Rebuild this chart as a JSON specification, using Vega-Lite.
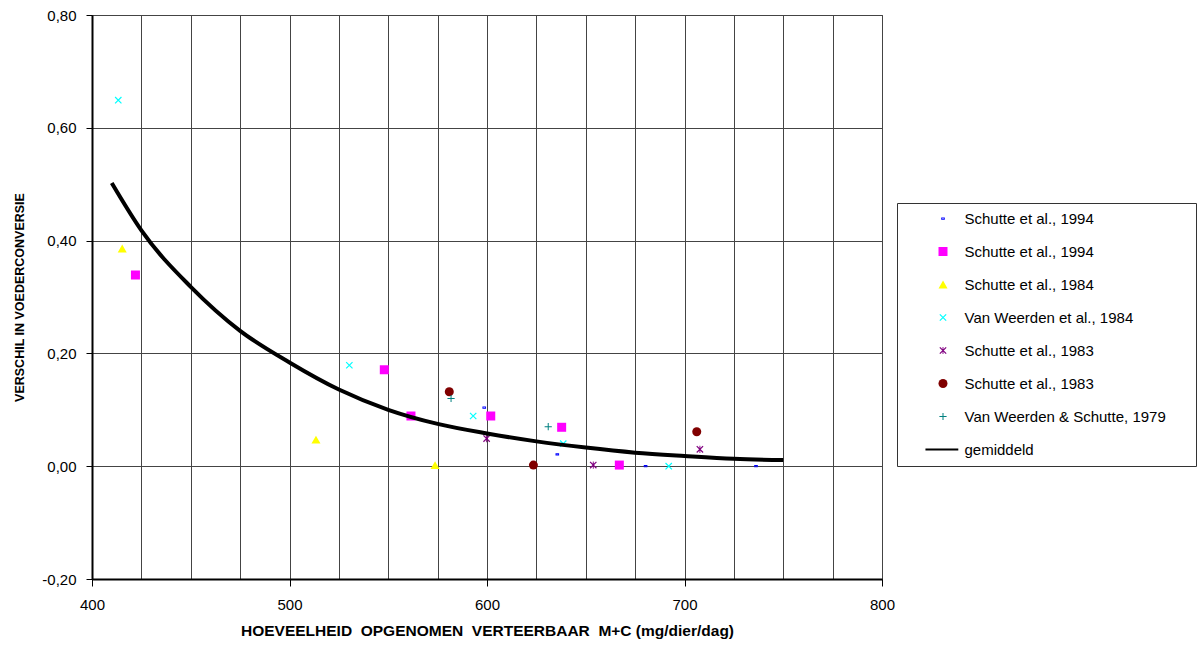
{
  "$schema": "https://vega.github.io/schema/vega-lite/v6.json",
  "width": 790,
  "height": 564,
  "autosize": "none",
  "padding": {"left": 92, "top": 15, "right": 315, "bottom": 67},
  "background": "white",
  "config": {
    "font": "Liberation Sans",
    "view": {"stroke": "#444", "strokeWidth": 1}
  },
  "datasets": {
    "pts": [
      {"series": "Schutte et al., 1994|a", "x": 598.6, "y": 0.104},
      {"series": "Schutte et al., 1994|a", "x": 635.6, "y": 0.021},
      {"series": "Schutte et al., 1994|a", "x": 680.3, "y": 0.0},
      {"series": "Schutte et al., 1994|a", "x": 736.2, "y": 0.0},
      {"series": "Schutte et al., 1994|b", "x": 422.0, "y": 0.339},
      {"series": "Schutte et al., 1994|b", "x": 548.0, "y": 0.171},
      {"series": "Schutte et al., 1994|b", "x": 561.5, "y": 0.089},
      {"series": "Schutte et al., 1994|b", "x": 601.9, "y": 0.089},
      {"series": "Schutte et al., 1994|b", "x": 637.8, "y": 0.069},
      {"series": "Schutte et al., 1994|b", "x": 667.0, "y": 0.002},
      {"series": "Schutte et al., 1984", "x": 415.3, "y": 0.386},
      {"series": "Schutte et al., 1984", "x": 513.4, "y": 0.047},
      {"series": "Schutte et al., 1984", "x": 573.7, "y": 0.002},
      {"series": "Van Weerden et al., 1984", "x": 413.3, "y": 0.649},
      {"series": "Van Weerden et al., 1984", "x": 530.3, "y": 0.179},
      {"series": "Van Weerden et al., 1984", "x": 593.0, "y": 0.089},
      {"series": "Van Weerden et al., 1984", "x": 638.6, "y": 0.040},
      {"series": "Van Weerden et al., 1984", "x": 692.0, "y": 0.0},
      {"series": "Schutte et al., 1983|a", "x": 599.8, "y": 0.049},
      {"series": "Schutte et al., 1983|a", "x": 653.8, "y": 0.002},
      {"series": "Schutte et al., 1983|a", "x": 707.8, "y": 0.030},
      {"series": "Schutte et al., 1983|b", "x": 580.9, "y": 0.132},
      {"series": "Schutte et al., 1983|b", "x": 623.5, "y": 0.002},
      {"series": "Schutte et al., 1983|b", "x": 706.2, "y": 0.061},
      {"series": "Van Weerden & Schutte, 1979", "x": 581.8, "y": 0.120},
      {"series": "Van Weerden & Schutte, 1979", "x": 631.0, "y": 0.070}
    ],
    "avg": [
      {"x": 410, "y": 0.502},
      {"x": 425, "y": 0.418},
      {"x": 450, "y": 0.318},
      {"x": 475, "y": 0.240},
      {"x": 500, "y": 0.184},
      {"x": 525, "y": 0.136},
      {"x": 550, "y": 0.100},
      {"x": 575, "y": 0.075},
      {"x": 600, "y": 0.058},
      {"x": 625, "y": 0.044},
      {"x": 650, "y": 0.033},
      {"x": 675, "y": 0.024},
      {"x": 700, "y": 0.018},
      {"x": 725, "y": 0.013},
      {"x": 750, "y": 0.011}
    ]
  },
  "layer": [
    {
      "data": {"name": "pts"},
      "mark": {"type": "point", "filled": true, "opacity": 1, "size": 81, "strokeWidth": 0},
      "encoding": {
        "x": {
          "field": "x", "type": "quantitative",
          "scale": {"domain": [400, 800], "nice": false, "zero": false},
          "axis": {
            "values": [400, 425, 450, 475, 500, 525, 550, 575, 600, 625, 650, 675, 700, 725, 750, 775, 800],
            "grid": true, "gridColor": "#444", "gridWidth": 1,
            "domainColor": "black", "domainWidth": 2,
            "tickColor": "black", "tickSize": 7, "tickWidth": 1,
            "tickOpacity": {"condition": {"test": "datum.value % 100 === 0", "value": 1}, "value": 0},
            "labelExpr": "datum.value % 100 === 0 ? datum.label : ''",
            "labelFlush": false, "labelOverlap": false,
            "labelFontSize": 15, "labelColor": "black", "labelPadding": 11,
            "title": "HOEVEELHEID\u00a0\u00a0OPGENOMEN\u00a0\u00a0VERTEERBAAR\u00a0\u00a0M+C (mg/dier/dag)",
            "titleFontSize": 15.5, "titleFontWeight": "bold", "titleColor": "black", "titlePadding": 11
          }
        },
        "y": {
          "field": "y", "type": "quantitative",
          "scale": {"domain": [-0.2, 0.8], "nice": false, "zero": false},
          "axis": {
            "values": [-0.2, 0, 0.2, 0.4, 0.6, 0.8],
            "grid": true, "gridColor": "#444", "gridWidth": 1,
            "domainColor": "black", "domainWidth": 2,
            "tickColor": "black", "tickSize": 6, "tickWidth": 1,
            "labelExpr": "(datum.value < 0 ? '-' : '') + replace(format(abs(datum.value), '.2f'), '.', ',')",
            "labelFlush": false, "labelOverlap": false,
            "labelFontSize": 15, "labelColor": "black", "labelPadding": 10,
            "title": "VERSCHIL IN VOEDERCONVERSIE",
            "titleFontSize": 12.5, "titleFontWeight": "bold", "titleColor": "black", "titlePadding": 15
          }
        },
        "color": {
          "field": "series", "type": "nominal",
          "scale": {
            "domain": ["Schutte et al., 1994|a", "Schutte et al., 1994|b", "Schutte et al., 1984", "Van Weerden et al., 1984", "Schutte et al., 1983|a", "Schutte et al., 1983|b", "Van Weerden & Schutte, 1979", "gemiddeld"],
            "range": ["#0000FF", "#FF00FF", "#FFFF00", "#00FFFF", "#800080", "#800000", "#008080", "#000000"]
          },
          "legend": {
            "title": null,
            "orient": "none", "legendX": 805, "legendY": 188,
            "padding": 8, "strokeColor": "#333", "fillColor": "white",
            "symbolOffset": 30.5, "labelOffset": 14, "rowPadding": 17,
            "symbolSize": 81, "symbolStrokeWidth": 0,
            "labelFontSize": 15, "labelColor": "black", "labelLimit": 400,
            "labelExpr": "split(datum.label, '|')[0] + '\u2800\u2800'"
          }
        },
        "shape": {
          "field": "series", "type": "nominal",
          "scale": {
            "domain": ["Schutte et al., 1994|a", "Schutte et al., 1994|b", "Schutte et al., 1984", "Van Weerden et al., 1984", "Schutte et al., 1983|a", "Schutte et al., 1983|b", "Van Weerden & Schutte, 1979", "gemiddeld"],
            "range": [
              "M-0.4,-0.25H0.4V0.25H-0.4Z M-0.2,-0.05V0.05H0.2V-0.05Z",
              "square",
              "triangle-up",
              "M-0.8,-0.61L-0.61,-0.8L0.8,0.61L0.61,0.8Z M0.8,-0.61L-0.61,0.8L-0.8,0.61L0.61,-0.8Z",
              "M-0.8,-0.61L-0.61,-0.8L0.8,0.61L0.61,0.8Z M0.8,-0.61L-0.61,0.8L-0.8,0.61L0.61,-0.8Z M-0.1,-0.8H0.1V0.8H-0.1Z",
              "circle",
              "M-0.8,-0.11H0.8V0.11H-0.8Z M-0.11,-0.8H0.11V0.8H-0.11Z",
              "M-3.9,-0.22H3.4V0.22H-3.9Z"
            ]
          }
        }
      }
    },
    {
      "data": {"name": "avg"},
      "mark": {"type": "line", "color": "black", "strokeWidth": 4, "interpolate": "monotone"},
      "encoding": {
        "x": {"field": "x", "type": "quantitative"},
        "y": {"field": "y", "type": "quantitative"}
      }
    }
  ]
}
